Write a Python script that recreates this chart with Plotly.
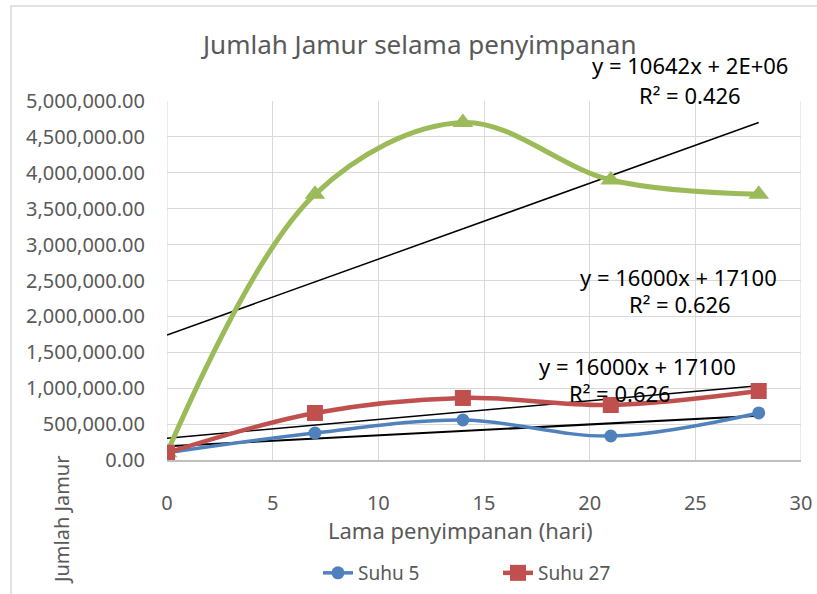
import numpy as np
import plotly.graph_objects as go

# ---- data ----
days = [0, 7, 14, 21, 28]
suhu5 = [100000, 376000, 557000, 334000, 655000]
suhu27 = [100000, 655000, 864000, 766000, 961000]
suhu_green = [100000, 3700000, 4700000, 3900000, 3700000]
series_names = ["Suhu 5", "Suhu 27", "Suhu lain"]
x_ticks = [0, 5, 10, 15, 20, 25, 30]
y_ticks = [0, 500000, 1000000, 1500000, 2000000, 2500000, 3000000, 3500000, 4000000, 4500000, 5000000]
trend_labels = [
    ("y = 10642x + 2E+06", "R² = 0.426"),
    ("y = 16000x + 17100", "R² = 0.626"),
    ("y = 16000x + 17100", "R² = 0.626"),
]

W, H = 817, 594
L, R, T, B = 167, 801, 101, 460  # plot area in px


def px(x, y):
    return (x - L) / (R - L), (B - y) / (B - T)


FONT = "Noto Sans"
GREY = "#595959"

fig = go.Figure()

# trendlines (linear fits computed from the data)
for vals, lw in [(suhu_green, 1.5), (suhu27, 1.5), (suhu5, 2)]:
    m, c = np.polyfit(days, vals, 1)
    xs = [days[0], days[-1]]
    fig.add_trace(go.Scatter(x=xs, y=[m * v + c for v in xs], mode="lines",
                             line=dict(color="black", width=lw), showlegend=False,
                             hoverinfo="skip"))

fig.add_trace(go.Scatter(x=days, y=suhu_green, name=series_names[2], mode="lines+markers",
                         line=dict(color="#9BBB59", width=5, shape="spline", smoothing=1),
                         marker=dict(symbol="triangle-up", size=18, color="#9BBB59"),
                         showlegend=False))
fig.add_trace(go.Scatter(x=days, y=suhu5, name=series_names[0], mode="lines+markers",
                         line=dict(color="#4F81BD", width=3.5, shape="spline", smoothing=1),
                         marker=dict(symbol="circle", size=13, color="#4F81BD")))
fig.add_trace(go.Scatter(x=days, y=suhu27, name=series_names[1], mode="lines+markers",
                         line=dict(color="#C0504D", width=4.5, shape="spline", smoothing=1),
                         marker=dict(symbol="square", size=16, color="#C0504D")))


def ann(text, x, y, size, color, angle=0):
    a, b = px(x, y)
    return dict(text=text, x=a, y=b, xref="paper", yref="paper", xanchor="center", yanchor="middle",
                showarrow=False, textangle=angle, font=dict(family=FONT, size=size, color=color))


annotations = [
    ann("Jumlah Jamur selama penyimpanan", 418, 44, 26, GREY),
    ann("Jumlah Jamur", 61, 520, 20, GREY, -90),
    ann("Lama penyimpanan (hari)", 460, 530, 22, GREY),
]
label_pos = [((690, 65), (690, 95)), ((678, 277), (680, 304)), ((637, 366), (620, 393))]
for (eq, r2), (p1, p2) in zip(trend_labels, label_pos):
    annotations.append(ann(eq, p1[0], p1[1], 22, "black"))
    annotations.append(ann(r2, p2[0], p2[1], 22, "black"))

bx0, by0 = px(11, 6)
bx1, by1 = px(840, 620)

lx, ly = px(318, 573)
fig.update_layout(
    width=W, height=H,
    margin=dict(l=L, r=W - R, t=T, b=H - B, autoexpand=False),
    paper_bgcolor="white", plot_bgcolor="white",
    font=dict(family=FONT, color=GREY),
    annotations=annotations,
    shapes=[dict(type="rect", xref="paper", yref="paper", x0=bx0, y0=by0, x1=bx1, y1=by1,
                 line=dict(color="#D9D9D9", width=1.5))],
    legend=dict(orientation="h", x=lx, y=ly, xanchor="left", yanchor="middle",
                font=dict(family=FONT, size=19, color=GREY), traceorder="normal",
                entrywidth=135, entrywidthmode="pixels"),
    xaxis=dict(range=[0, 30], tickvals=x_ticks, showgrid=True, gridcolor="#D9D9D9", gridwidth=1,
               showline=True, linecolor="#BFBFBF", linewidth=1.5, zeroline=False,
               tickfont=dict(family=FONT, size=20, color=GREY), ticks="", ticklabelstandoff=24,
               automargin=False),
    yaxis=dict(range=[0, 5000000], tickvals=y_ticks, tickformat=",.2f", showgrid=True,
               gridcolor="#D9D9D9", gridwidth=1, zeroline=False, showline=False,
               tickfont=dict(family=FONT, size=20, color=GREY), ticks="", ticklabelstandoff=21,
               automargin=False),
)
fig.add_shape(type="line", xref="x", yref="paper", x0=30, x1=30, y0=0, y1=1,
              line=dict(color="#D9D9D9", width=1), layer="below")
fig.add_shape(type="line", xref="x", yref="paper", x0=0, x1=0, y0=0, y1=1,
              line=dict(color="#D9D9D9", width=1), layer="below")

fig.write_html("out.html", config={"displayModeBar": False},
               post_script="document.body.style.margin='0';")
